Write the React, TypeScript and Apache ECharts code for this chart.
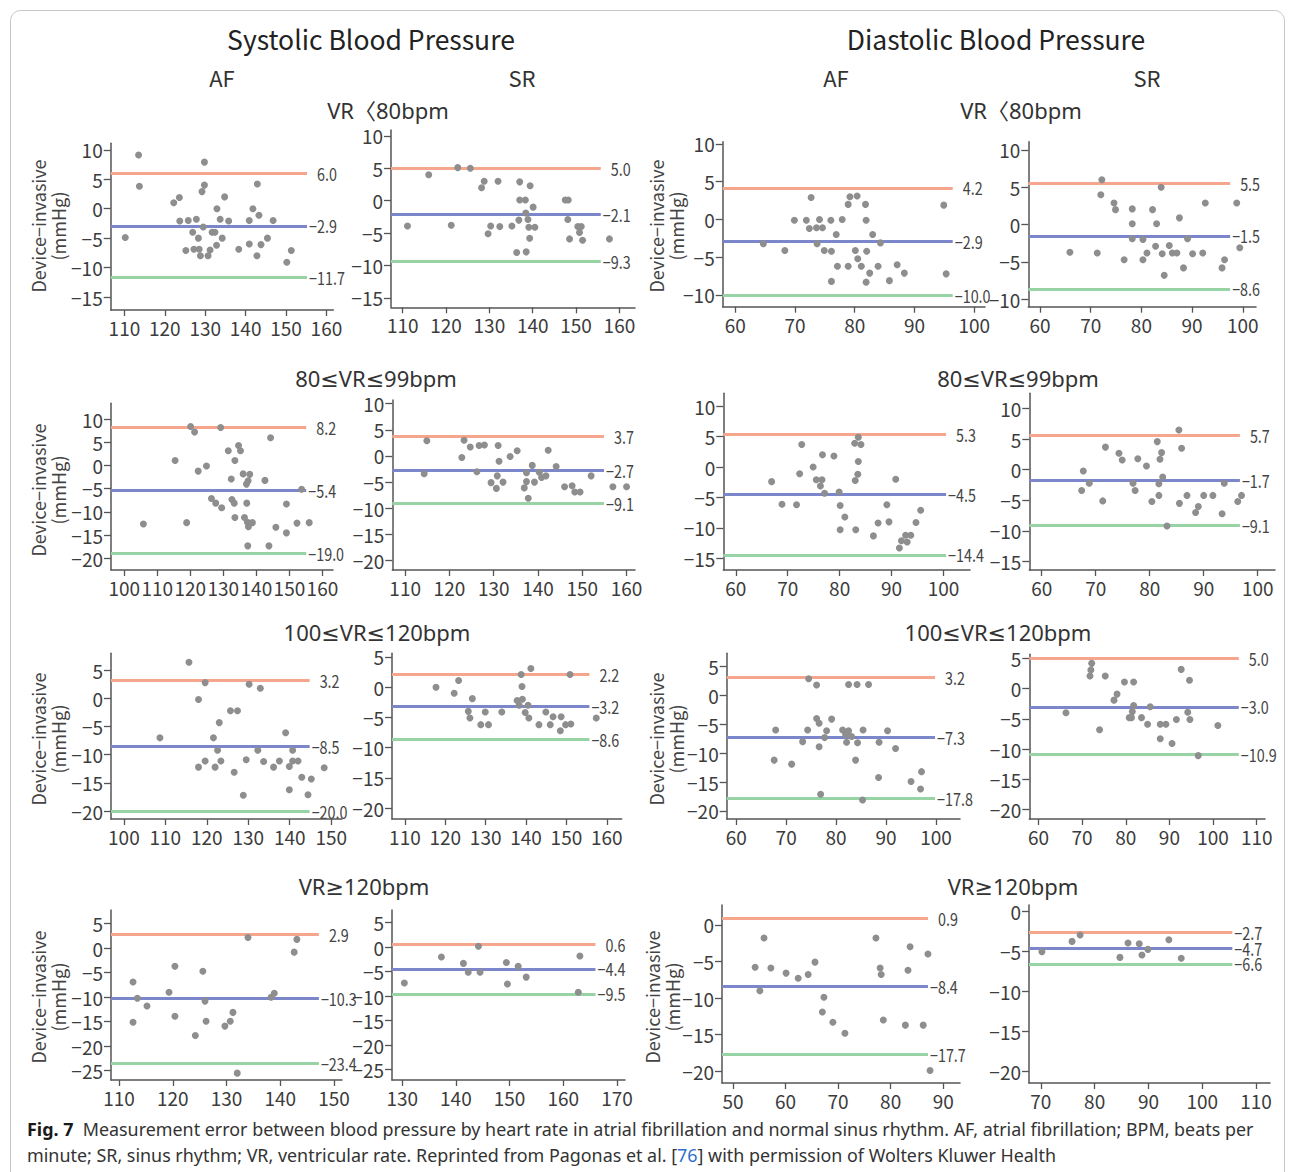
import React, { useEffect, useRef } from "react";
import * as echarts from "echarts";

type Pt = [number, number];

// ---------- DATA ----------
// Row 1: VR<80bpm
const sysAF_r1: Pt[] = [[110.2,-4.9],[113.5,9.1],[113.7,3.8],[122.2,1.0],[123.6,1.9],[123.7,-2.1],[125.2,-7.1],[125.8,-2.0],[126.9,-4.0],[127.2,-6.9],[127.8,-1.8],[128.3,-5.0],[128.5,-6.9],[128.8,-8.0],[129.2,2.9],[129.5,-3.1],[129.8,7.9],[129.8,4.0],[130.7,-8.0],[131.2,-7.0],[131.7,-4.0],[132.4,-4.0],[132.8,-6.2],[132.9,0.0],[133.7,-1.8],[134.2,-5.0],[134.8,2.0],[135.8,-2.1],[138.3,-6.9],[140.9,-2.0],[140.9,-6.0],[141.8,0.0],[142.8,-8.0],[142.9,4.2],[143.3,-1.1],[143.8,-6.1],[145.4,-5.0],[146.8,-2.0],[150.2,-9.1],[151.3,-7.1]];
const sysSR_r1: Pt[] = [[111.1,-3.9],[116.0,4.0],[121.2,-3.8],[122.7,5.1],[125.6,5.0],[128.2,2.0],[128.8,3.0],[129.7,-5.1],[130.3,-3.9],[132.0,3.0],[132.4,-4.0],[135.2,-3.9],[136.3,-8.0],[136.8,-3.0],[137.0,2.9],[137.0,0.1],[138.3,0.1],[138.4,-1.9],[138.5,-7.9],[138.9,-2.9],[139.1,-4.1],[139.3,-5.8],[139.4,2.3],[140.1,-1.0],[140.5,-4.1],[147.5,0.1],[148.2,0.1],[148.1,-2.9],[148.5,-5.9],[150.4,-4.0],[151.2,-4.0],[150.8,-4.9],[151.5,-6.1],[157.7,-5.9]];
const diaAF_r1: Pt[] = [[64.7,-3.2],[68.3,-4.1],[69.9,-0.1],[71.9,-0.1],[72.4,-1.2],[72.7,2.9],[73.6,-1.1],[73.7,-3.2],[74.1,0.0],[74.6,-1.1],[74.9,-4.1],[76.0,-0.1],[76.1,-4.2],[76.1,-8.2],[76.9,-2.0],[77.1,-6.2],[77.9,0.0],[78.9,2.0],[78.9,-6.2],[79.2,3.0],[80.1,-4.1],[80.4,3.1],[80.5,-5.2],[81.1,-6.2],[81.8,2.0],[81.9,-0.1],[82.0,-4.2],[81.9,-8.3],[82.5,-7.1],[83.0,-2.0],[83.9,-6.2],[84.3,-3.1],[85.8,-8.1],[87.1,-6.0],[88.3,-7.1],[94.9,1.9],[95.3,-7.2]];
const diaSR_r1: Pt[] = [[65.9,-3.7],[71.3,-3.8],[72.0,4.0],[72.2,6.0],[74.6,2.9],[74.9,2.0],[76.6,-4.7],[78.2,2.1],[78.2,0.1],[78.2,-1.9],[80.3,-2.0],[80.3,-4.7],[81.1,-3.8],[82.2,2.0],[82.8,-2.9],[83.0,0.1],[83.9,5.0],[84.1,-3.9],[84.5,-6.8],[85.5,-2.8],[86.1,-3.8],[87.0,-3.8],[87.5,0.9],[88.3,-5.8],[89.1,-1.9],[90.1,-3.9],[92.1,-3.8],[92.6,2.9],[95.9,-5.8],[96.4,-4.7],[98.8,2.9],[99.4,-3.1]];
// Row 2: 80≤VR≤99bpm
const sysAF_r2: Pt[] = [[105.8,-12.6],[115.4,1.1],[118.9,-12.3],[120.1,8.4],[121.3,7.2],[122.4,-1.2],[124.9,-0.1],[126.4,-7.1],[127.7,-8.1],[129.2,8.2],[129.5,-9.1],[131.5,3.2],[132.4,-2.9],[132.6,-7.3],[133.3,-8.1],[133.5,1.1],[133.5,-11.2],[134.6,4.3],[135.2,3.2],[136.0,-1.8],[136.4,-11.2],[137.0,-4.0],[137.1,-8.1],[137.3,-12.2],[137.4,-17.3],[137.5,-3.3],[137.6,-13.2],[138.0,-1.9],[138.8,-12.3],[142.6,-3.2],[144.3,6.0],[143.8,-17.3],[145.9,-13.3],[149.1,-8.3],[149.1,-14.5],[152.3,-12.4],[153.7,-5.1],[156.0,-12.3]];
const sysSR_r2: Pt[] = [[114.3,-3.4],[114.9,2.9],[122.8,-0.3],[123.3,3.0],[124.7,1.7],[126.2,-3.0],[126.7,2.0],[127.9,2.1],[129.4,-5.1],[130.6,-6.2],[130.8,-3.8],[131.0,2.0],[131.2,-1.0],[132.1,-5.0],[133.7,-0.1],[135.3,1.0],[136.9,-6.1],[137.4,-3.2],[137.4,-4.9],[137.8,-8.1],[138.7,-1.8],[139.2,-5.0],[140.3,-3.1],[140.8,-4.1],[141.8,-3.8],[142.3,1.1],[144.1,-2.0],[146.0,-5.9],[147.7,-5.7],[148.3,-6.9],[149.5,-6.9],[152.0,-3.8],[156.9,-5.9],[160.0,-5.9]];
const diaAF_r2: Pt[] = [[66.9,-2.4],[68.9,-6.1],[71.7,-6.2],[72.3,-1.1],[72.7,3.7],[74.9,0.0],[75.5,-2.1],[76.3,-3.1],[76.6,-2.1],[76.7,2.0],[77.1,-4.3],[78.9,1.8],[79.9,-4.1],[80.1,-6.3],[80.1,-10.3],[81.0,-8.2],[82.9,3.9],[83.0,-2.2],[83.1,-10.3],[83.5,-1.2],[83.6,0.9],[83.6,4.9],[84.1,3.7],[86.5,-11.3],[87.4,-9.2],[89.1,-6.2],[89.5,-9.0],[90.8,-2.0],[91.5,-13.3],[91.9,-12.1],[92.7,-11.2],[93.0,-12.3],[93.7,-11.2],[94.7,-9.1],[95.6,-7.1]];
const diaSR_r2: Pt[] = [[67.4,-3.4],[67.7,-0.2],[68.8,-2.2],[71.3,-5.1],[71.8,3.7],[74.3,2.7],[74.9,1.6],[76.9,-2.2],[77.3,-3.4],[77.8,1.8],[79.4,0.6],[80.4,-5.2],[81.4,4.6],[81.7,-2.3],[81.7,-4.2],[81.9,1.7],[82.2,2.8],[82.4,-1.2],[83.2,-9.2],[85.4,6.5],[85.5,-5.5],[85.9,3.5],[86.9,-4.2],[88.5,-7.0],[89.0,-6.0],[90.0,-4.2],[91.7,-4.2],[93.4,-7.2],[93.8,-2.2],[96.3,-5.2],[97.0,-4.2]];
// Row 3: 100≤VR≤120bpm
const sysAF_r3: Pt[] = [[108.7,-7.0],[115.7,6.4],[118.0,-0.2],[118.0,-12.2],[119.6,2.8],[119.6,-11.1],[121.6,-7.0],[122.0,-12.2],[122.6,-9.2],[123.0,-4.3],[123.4,-11.1],[125.7,-2.2],[126.6,-13.1],[127.4,-2.2],[128.8,-17.2],[129.5,-10.9],[130.2,2.5],[132.3,-9.2],[132.9,1.8],[133.7,-11.2],[136.1,-12.2],[137.5,-11.1],[139.0,-6.1],[139.9,-12.1],[139.9,-16.2],[140.7,-9.2],[140.7,-11.1],[142.0,-11.1],[142.9,-14.0],[144.4,-17.1],[145.2,-14.3],[148.3,-12.3]];
const sysSR_r3: Pt[] = [[117.7,0.0],[122.2,-1.0],[123.3,1.1],[125.7,-4.0],[126.1,-5.1],[126.7,-1.9],[128.8,-6.2],[129.9,-4.1],[130.7,-6.2],[134.0,-4.1],[137.8,-2.2],[138.3,-3.0],[138.8,2.1],[139.0,0.1],[139.1,-2.0],[139.8,-4.2],[140.5,-3.0],[140.7,-5.1],[141.2,3.1],[143.2,-6.2],[144.9,-4.1],[146.0,-6.2],[146.7,-4.9],[148.7,-4.9],[148.5,-7.2],[149.8,-6.2],[151.1,-6.1],[150.9,2.1],[157.4,-5.1]];
const diaAF_r3: Pt[] = [[67.6,-11.2],[67.9,-6.0],[71.1,-11.9],[73.3,-8.0],[74.3,-6.0],[74.5,2.9],[76.1,1.8],[76.1,-4.0],[76.6,-4.8],[76.6,-8.9],[76.9,-17.1],[77.7,-7.3],[78.1,-6.1],[79.1,-4.1],[81.3,-6.0],[81.9,-6.8],[82.1,-8.1],[82.5,-6.1],[82.5,1.9],[83.1,-7.1],[83.9,-11.2],[84.2,1.9],[84.3,-8.2],[85.3,-18.1],[85.4,-6.0],[86.5,1.9],[88.6,-8.1],[88.5,-14.2],[90.3,-6.1],[91.9,-9.2],[95.0,-14.9],[96.9,-16.2],[97.1,-13.2]];
const diaSR_r3: Pt[] = [[66.3,-4.0],[71.8,2.1],[72.0,3.1],[72.2,4.2],[74.0,-6.8],[75.3,2.1],[77.3,-1.9],[78.0,-0.9],[79.7,1.1],[80.8,-4.8],[81.5,-3.8],[81.3,-4.8],[81.8,-2.8],[81.8,1.1],[83.6,-4.8],[85.0,-5.9],[85.6,-3.0],[87.9,-5.9],[87.9,-8.3],[89.2,-5.9],[90.6,-9.1],[91.6,-5.1],[92.7,3.2],[94.2,-3.9],[94.6,1.4],[94.7,-5.1],[96.6,-11.1],[101.1,-6.1]];
// Row 4: VR≥120bpm
const sysAF_r4: Pt[] = [[112.6,-6.9],[112.6,-15.1],[113.4,-10.2],[115.2,-11.8],[119.3,-9.0],[120.4,-3.7],[120.4,-13.9],[124.2,-17.8],[125.6,-4.7],[126.0,-10.8],[126.2,-14.9],[129.7,-15.9],[130.7,-14.9],[131.2,-13.1],[132.0,-25.5],[134.0,2.2],[138.9,-9.2],[138.3,-10.0],[142.6,-0.8],[143.1,1.8]];
const sysSR_r4: Pt[] = [[130.4,-7.3],[137.3,-2.0],[141.4,-3.3],[142.3,-5.1],[144.2,0.2],[144.5,-5.1],[149.4,-3.1],[149.6,-7.5],[151.6,-3.9],[153.1,-6.1],[163.1,-1.8],[162.8,-9.2]];
const diaAF_r4: Pt[] = [[55.9,-1.8],[54.2,-5.8],[55.1,-9.0],[57.2,-5.9],[60.1,-6.6],[62.4,-7.3],[64.3,-6.8],[65.6,-5.1],[67.3,-9.9],[67.0,-11.9],[69.0,-13.3],[71.3,-14.8],[77.2,-1.8],[78.0,-5.9],[78.2,-6.8],[78.6,-13.0],[82.8,-13.7],[83.3,-6.2],[83.7,-3.0],[86.2,-13.7],[87.1,-4.0],[87.5,-19.9]];
const diaSR_r4: Pt[] = [[70.2,-5.1],[75.8,-3.8],[77.3,-3.0],[84.7,-5.8],[86.2,-4.0],[88.3,-4.1],[88.8,-5.5],[89.9,-4.8],[93.8,-3.6],[96.1,-5.9]];

// Limits of agreement: [upper, mean, lower]
const lim_sysAF_r1 = [6.0, -2.9, -11.7];
const lim_sysSR_r1 = [5.0, -2.1, -9.3];
const lim_diaAF_r1 = [4.2, -2.9, -10.0];
const lim_diaSR_r1 = [5.5, -1.5, -8.6];
const lim_sysAF_r2 = [8.2, -5.4, -19.0];
const lim_sysSR_r2 = [3.7, -2.7, -9.1];
const lim_diaAF_r2 = [5.3, -4.5, -14.4];
const lim_diaSR_r2 = [5.7, -1.7, -9.1];
const lim_sysAF_r3 = [3.2, -8.5, -20.0];
const lim_sysSR_r3 = [2.2, -3.2, -8.6];
const lim_diaAF_r3 = [3.2, -7.3, -17.8];
const lim_diaSR_r3 = [5.0, -3.0, -10.9];
const lim_sysAF_r4 = [2.9, -10.3, -23.4];
const lim_sysSR_r4 = [0.6, -4.4, -9.5];
const lim_diaAF_r4 = [0.9, -8.4, -17.7];
const lim_diaSR_r4 = [-2.7, -4.7, -6.6];

// Tick labels
const xt_110_160 = [110, 120, 130, 140, 150, 160];
const xt_100_160 = [100, 110, 120, 130, 140, 150, 160];
const xt_100_150 = [100, 110, 120, 130, 140, 150];
const xt_110_150 = [110, 120, 130, 140, 150];
const xt_130_170 = [130, 140, 150, 160, 170];
const xt_60_100 = [60, 70, 80, 90, 100];
const xt_60_110 = [60, 70, 80, 90, 100, 110];
const xt_50_90 = [50, 60, 70, 80, 90];
const xt_70_110 = [70, 80, 90, 100, 110];
const yt_m15_10 = [-15, -10, -5, 0, 5, 10];
const yt_m10_10 = [-10, -5, 0, 5, 10];
const yt_m20_10 = [-20, -15, -10, -5, 0, 5, 10];
const yt_m20_5 = [-20, -15, -10, -5, 0, 5];
const yt_m25_5 = [-25, -20, -15, -10, -5, 0, 5];
const yt_m20_0 = [-20, -15, -10, -5, 0];

const mainTitles = ["Systolic Blood Pressure", "Diastolic Blood Pressure"];
const colTitles = ["AF", "SR", "AF", "SR"];
const rowTitles = ["VR〈80bpm", "80≤VR≤99bpm", "100≤VR≤120bpm", "VR≥120bpm"];
const yName = "Device−invasive\n(mmHg)";

// ---------- LAYOUT (pixel boxes & axis extents) ----------
type Panel = {
  box: [number, number, number, number]; // left, top, right, bottom
  xr: [number, number];
  yr: [number, number];
  lineEnd: number;
  xt: number[];
  yt: number[];
  pts: Pt[];
  lim: number[];
};

const panels: Panel[] = [
  { box: [110.7, 143.3, 333.3, 310], xr: [106.6, 161.7], yr: [-17.2, 11.1], lineEnd: 155.2, xt: xt_110_160, yt: yt_m15_10, pts: sysAF_r1, lim: lim_sysAF_r1 },
  { box: [391, 130, 635, 307.3], xr: [107.3, 163.6], yr: [-16.45, 10.9], lineEnd: 155.7, xt: xt_110_160, yt: yt_m15_10, pts: sysSR_r1, lim: lim_sysSR_r1 },
  { box: [722.7, 141.7, 985, 306.7], xr: [57.9, 101.8], yr: [-11.55, 10.3], lineEnd: 96.4, xt: xt_60_100, yt: yt_m10_10, pts: diaAF_r1, lim: lim_diaAF_r1 },
  { box: [1028.3, 141.7, 1256, 306.7], xr: [57.7, 102.6], yr: [-11.0, 11.1], lineEnd: 97.5, xt: xt_60_100, yt: yt_m10_10, pts: diaSR_r1, lim: lim_diaSR_r1 },

  { box: [111, 403.3, 333, 570], xr: [96, 163.2], yr: [-22.5, 13.4], lineEnd: 155.1, xt: xt_100_160, yt: yt_m20_10, pts: sysAF_r2, lim: lim_sysAF_r2 },
  { box: [392.3, 400, 635, 570], xr: [107.1, 161.9], yr: [-21.8, 10.7], lineEnd: 154.9, xt: xt_110_160, yt: yt_m20_10, pts: sysSR_r2, lim: lim_sysSR_r2 },
  { box: [723.3, 393.3, 970, 570], xr: [57.6, 105.1], yr: [-16.9, 12.1], lineEnd: 100.5, xt: xt_60_100, yt: yt_m15_10, pts: diaAF_r2, lim: lim_diaAF_r2 },
  { box: [1029.3, 393.3, 1275, 570], xr: [57.7, 103.2], yr: [-16.4, 12.5], lineEnd: 96.7, xt: xt_60_100, yt: yt_m15_10, pts: diaSR_r2, lim: lim_diaSR_r2 },

  { box: [111, 653.3, 342, 819], xr: [96.9, 152.6], yr: [-21.4, 8.0], lineEnd: 144.8, xt: xt_100_150, yt: yt_m20_5, pts: sysAF_r3, lim: lim_sysAF_r3 },
  { box: [392, 653.3, 621.7, 819], xr: [106.8, 163.7], yr: [-21.8, 5.6], lineEnd: 155.7, xt: xt_110_160, yt: yt_m20_5, pts: sysSR_r3, lim: lim_sysSR_r3 },
  { box: [726.7, 653.3, 960, 819], xr: [58.1, 104.8], yr: [-21.4, 7.3], lineEnd: 99.8, xt: xt_60_100, yt: yt_m20_5, pts: diaAF_r3, lim: lim_diaAF_r3 },
  { box: [1029.3, 654.3, 1265, 819], xr: [57.9, 111.9], yr: [-21.6, 5.7], lineEnd: 105.9, xt: xt_60_110, yt: yt_m20_5, pts: diaSR_r3, lim: lim_diaSR_r3 },

  { box: [111, 910, 342, 1080], xr: [108.5, 151.5], yr: [-26.9, 7.8], lineEnd: 147.2, xt: xt_110_150, yt: yt_m25_5, pts: sysAF_r4, lim: lim_sysAF_r4 },
  { box: [392, 910, 625, 1080], xr: [128.1, 171.5], yr: [-27.1, 7.6], lineEnd: 166, xt: xt_130_170, yt: yt_m25_5, pts: sysSR_r4, lim: lim_sysSR_r4 },
  { box: [722, 905, 960, 1083], xr: [47.9, 93.2], yr: [-21.6, 2.7], lineEnd: 87.1, xt: xt_50_90, yt: yt_m20_0, pts: diaAF_r4, lim: lim_diaAF_r4 },
  { box: [1029, 905, 1270, 1083], xr: [67.8, 112.6], yr: [-21.5, 0.75], lineEnd: 105.6, xt: xt_70_110, yt: yt_m20_0, pts: diaSR_r4, lim: lim_diaSR_r4 },
];

const FONT = '"Noto Sans CJK SC", "Noto Sans", sans-serif';
const ROW_FONT = '"Noto Sans", "DejaVu Sans", "Noto Sans CJK SC", sans-serif';
const AXIS = "#555";
const TICK_TXT = "#3c3c3c";
const LINE_COLORS = ["#f6a68c", "#7b86cb", "#98d3a6"];
const minus = (s: string) => s.replace(/-/g, "\u2212");

function buildOption() {
  const grid = panels.map((p) => ({
    left: p.box[0],
    top: p.box[1],
    width: p.box[2] - p.box[0],
    height: p.box[3] - p.box[1],
    containLabel: false,
  }));
  const axisCommon = (ticks: number[], len: number) => ({
    axisLine: { show: true, onZero: false, lineStyle: { color: AXIS, width: 1.5 } },
    axisTick: { show: true, length: len, customValues: ticks, lineStyle: { color: AXIS, width: 1.3 } },
    axisLabel: {
      customValues: ticks,
      margin: 8,
      fontSize: 19,
      lineHeight: 19,
      color: TICK_TXT,
      fontFamily: FONT,
      formatter: (v: number) => minus(String(v)),
    },
    splitLine: { show: false },
  });
  const xAxis = panels.map((p, i) => ({
    type: "value",
    gridIndex: i,
    min: p.xr[0],
    max: p.xr[1],
    ...axisCommon(p.xt, 6),
  }));
  const yAxis = panels.map((p, i) => ({
    type: "value",
    gridIndex: i,
    min: p.yr[0],
    max: p.yr[1],
    ...axisCommon(p.yt, 7),
  }));
  const series = panels.map((p, i) => ({
    type: "scatter",
    xAxisIndex: i,
    yAxisIndex: i,
    data: p.pts,
    symbolSize: 7,
    z: 3,
    itemStyle: { color: "#8e8e8e", opacity: 1 },
    silent: true,
    markLine: {
      silent: true,
      z: 1,
      symbol: ["none", "none"],
      animation: false,
      label: { show: false },
      data: p.lim.map((v, k) => [
        {
          coord: [p.xr[0], v],
          lineStyle: { color: LINE_COLORS[k], width: 3, type: "solid", opacity: 1 },
        },
        { coord: [p.lineEnd, v] },
      ]),
    },
  }));

  return {
    animation: false,
    backgroundColor: "#ffffff",
    grid,
    xAxis,
    yAxis,
    series,
  };
}

function buildGraphics(chart: echarts.ECharts) {
  const els: any[] = [];
  const tStyle = (text: string, x: number, y: number, size: number, color = "#2a2a2a", family = FONT) => ({
    type: "text",
    silent: true,
    style: { text, x, y, fill: color, fontSize: size, lineHeight: size, fontFamily: family, align: "center", verticalAlign: "middle" },
  });
  els.push({
    type: "rect",
    silent: true,
    shape: { x: 10.5, y: 10.5, width: 1274, height: 1220, r: 10 },
    style: { fill: "none", stroke: "#c6c6c6", lineWidth: 1 },
  });
  els.push(tStyle(mainTitles[0], 371, 38, 26.5, "#222"));
  els.push(tStyle(mainTitles[1], 996, 38, 26.5, "#222"));
  const colX = [222, 522, 836, 1147];
  colTitles.forEach((t, i) => els.push(tStyle(t, colX[i], 77, 22, "#333")));
  const rowY = [110, 378, 632, 886];
  const rowXL = [388, 376, 377, 364];
  const rowXR = [1021, 1018, 998, 1013];
  rowTitles.forEach((t, i) => {
    els.push(tStyle(t, rowXL[i], rowY[i], 22, "#333", ROW_FONT));
    els.push(tStyle(t, rowXR[i], rowY[i], 22, "#333", ROW_FONT));
  });
  const nameRows: [number, number][] = [
    [48, 226], [48, 490], [48, 739], [48, 997],
    [666, 226], [666, 739], [662, 997],
  ];
  nameRows.forEach(([x, y]) =>
    els.push({
      type: "text",
      silent: true,
      x,
      y,
      rotation: Math.PI / 2,
      style: {
        text: yName,
        x: 0,
        y: 0,
        fill: "#444",
        fontSize: 18,
        lineHeight: 20,
        fontFamily: FONT,
        align: "center",
        verticalAlign: "middle",
      },
    })
  );
  // limit labels, positioned through the axes' own scales
  panels.forEach((p, i) => {
    p.lim.forEach((v) => {
      const pix = chart.convertToPixel({ seriesIndex: i } as any, [p.lineEnd, v]) as number[];
      if (!pix) return;
      els.push({
        type: "text",
        silent: true,
        x: pix[0] + (v >= 0 ? 10 : 2),
        y: pix[1],
        scaleX: 0.82,
        style: {
          text: minus(v.toFixed(1)),
          x: 0,
          y: 0,
          fill: "#444",
          fontSize: 17.5,
          lineHeight: 14,
          fontFamily: FONT,
          align: "left",
          verticalAlign: "middle",
        },
      });
    });
  });
  const capFont = '"Noto Sans", sans-serif';
  const capSize = 17.9;
  els.push({
    type: "text",
    silent: true,
    style: {
      text:
        "{b|Fig. 7}  Measurement error between blood pressure by heart rate in atrial fibrillation and normal sinus rhythm. AF, atrial fibrillation; BPM, beats per",
      x: 27,
      y: 1129,
      fill: "#333",
      fontSize: capSize,
      fontFamily: capFont,
      verticalAlign: "middle",
      rich: { b: { fontWeight: "bold", fill: "#1a1a1a", fontSize: capSize, fontFamily: capFont } },
    },
  });
  els.push({
    type: "text",
    silent: true,
    style: {
      text:
        "minute; SR, sinus rhythm; VR, ventricular rate. Reprinted from Pagonas et al. [{u|76}] with permission of Wolters Kluwer Health",
      x: 27,
      y: 1155,
      fill: "#333",
      fontSize: capSize,
      fontFamily: capFont,
      verticalAlign: "middle",
      rich: { u: { fill: "#2f6fd0", fontSize: capSize, fontFamily: capFont } },
    },
  });
  return els;
}

export default function App() {
  const ref = useRef<HTMLDivElement | null>(null);
  useEffect(() => {
    if (!ref.current) return;
    const chart = echarts.init(ref.current, undefined, { renderer: "svg" });
    chart.setOption(buildOption() as any);
    chart.setOption({ graphic: { elements: buildGraphics(chart) } } as any);
    return () => chart.dispose();
  }, []);
  return (
    <div
      ref={ref}
      style={{ position: "fixed", left: 0, top: 0, width: 1293, height: 1172, background: "#fff" }}
    />
  );
}
